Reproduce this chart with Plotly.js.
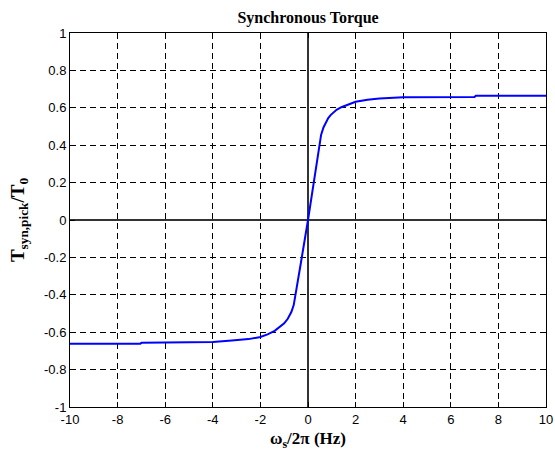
<!DOCTYPE html>
<html><head><meta charset="utf-8">
<script src="https://cdn.plot.ly/plotly-3.0.1.min.js"></script>
<style>html,body{margin:0;padding:0;background:#fff}#plot{width:555px;height:457px}</style>
</head><body><div id="plot"></div>
<script>
const freqHz = [-10, -7.05, -7, -4, -3.2, -2.5, -2, -1.7, -1.4, -1.2, -1.0, -0.85, -0.7, -0.6, -0.52, -0.4, -0.3, 0, 0.25, 0.46, 0.55, 0.65, 0.75, 0.85, 0.95, 1.05, 1.2, 1.4, 1.7, 2, 2.5, 3, 4, 7, 7.05, 10];
const torque = [-0.662, -0.662, -0.657, -0.652, -0.645, -0.637, -0.626, -0.612, -0.593, -0.575, -0.553, -0.528, -0.492, -0.455, -0.40, -0.31, -0.23, 0, 0.21, 0.40, 0.455, 0.495, 0.524, 0.545, 0.561, 0.574, 0.589, 0.603, 0.619, 0.632, 0.643, 0.650, 0.657, 0.658, 0.665, 0.665];
const xTickVals = [-10, -8, -6, -4, -2, 0, 2, 4, 6, 8, 10];
const xTickText = ["-10", "-8", "-6", "-4", "-2", "0", "2", "4", "6", "8", "10"];
const yTickVals = [-1, -0.8, -0.6, -0.4, -0.2, 0, 0.2, 0.4, 0.6, 0.8, 1];
const yTickText = ["-1", "-0.8", "-0.6", "-0.4", "-0.2", "0", "0.2", "0.4", "0.6", "0.8", "1"];

const serif = 'Liberation Serif';
const axisCommon = {
  showline: true, linecolor: '#000', linewidth: 1, mirror: 'ticks',
  ticks: 'inside', ticklen: 5, tickcolor: '#000', tickwidth: 1,
  showgrid: true, gridcolor: '#000', gridwidth: 1, griddash: '6px,4px',
  zeroline: true, zerolinecolor: '#333', zerolinewidth: 2,
  tickfont: {family: 'Liberation Sans', size: 13, color: '#000'},
  tickmode: 'array'
};

const data = [{
  x: freqHz, y: torque, type: 'scatter', mode: 'lines',
  line: {color: '#0000ff', width: 2}
}];

const layout = {
  width: 555, height: 457,
  margin: {l: 70, r: 9, t: 33, b: 50},
  paper_bgcolor: '#fff', plot_bgcolor: '#fff',
  showlegend: false,
  title: {text: '<b>Synchronous Torque</b>', x: 0.555, xanchor: 'center', y: 0.963, yanchor: 'middle',
    font: {family: serif, size: 16, color: '#000'}},
  xaxis: Object.assign({}, axisCommon, {
    range: [-10, 10], tickvals: xTickVals, ticktext: xTickText,
    title: {text: '<b>ω<sub>s</sub>/2π (Hz)</b>', standoff: 6,
      font: {family: serif, size: 17, color: '#000'}}
  }),
  yaxis: Object.assign({}, axisCommon, {
    range: [-1, 1], tickvals: yTickVals, ticktext: yTickText,
    title: {text: '<b>T<sub>syn,pick</sub>/T<sub>0</sub></b>', standoff: 14,
      font: {family: serif, size: 19, color: '#000'}}
  })
};

Plotly.newPlot('plot', data, layout, {staticPlot: true, displayModeBar: false});
</script></body></html>
